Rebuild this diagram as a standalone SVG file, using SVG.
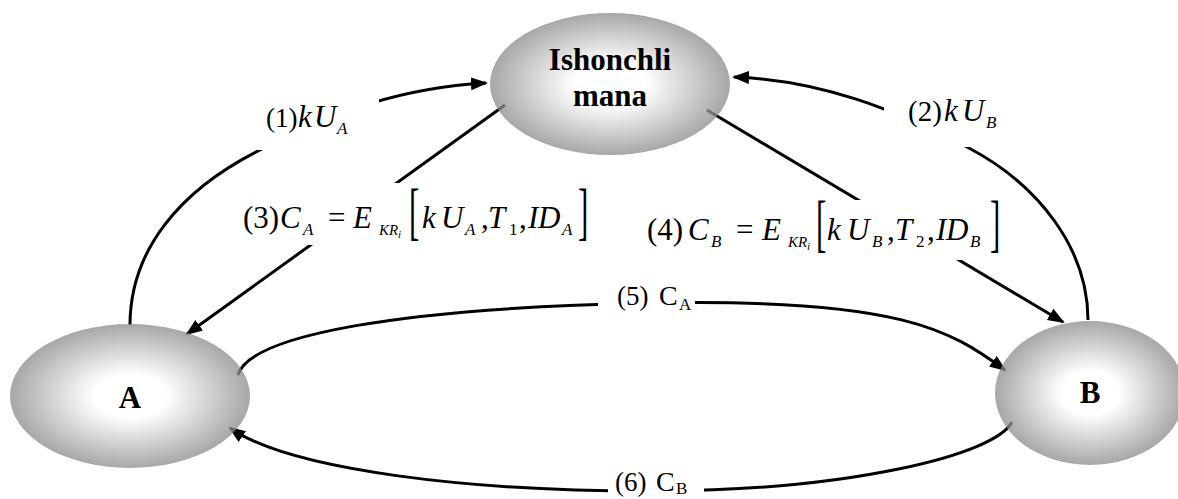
<svg xmlns="http://www.w3.org/2000/svg" width="1178" height="499" viewBox="0 0 1178 499">
<style>
.c{fill:none;stroke:#000;stroke-width:3}
.a{marker-end:url(#ah)}
.t{font-family:"Liberation Serif","Times New Roman","DejaVu Serif",serif;fill:#000}
.n{font-family:"Liberation Serif","Times New Roman","DejaVu Serif",serif;font-weight:bold;font-size:31px;text-anchor:middle;fill:#000}
.i{font-style:italic}
.s{font-size:17px}
.sk{font-size:15px}
.ss{font-size:11px}
.bg{fill:#fff}
.e{fill:url(#g);fill-opacity:0.75}
</style>
<defs>
<radialGradient id="g" cx="50%" cy="50%" r="50%">
<stop offset="0" stop-color="#ffffff"/>
<stop offset="0.3" stop-color="#ffffff"/>
<stop offset="1" stop-color="#8a8a8a"/>
</radialGradient>
<marker id="ah" markerUnits="userSpaceOnUse" markerWidth="18" markerHeight="14" refX="15" refY="6.5" orient="auto">
<path d="M0,0 L17,6.5 L0,13 z" fill="#000"/>
</marker>
</defs>
<rect width="1178" height="499" fill="#fff"/>
<g id="connectors">
<path class="c a" d="M130,325 C130,250 180,190 260,150 S400,88 486,83"/>
<path class="c a" d="M1088,320 C1088,250 1040,185 967,147 S820,80 734,77"/>
<path class="c a" d="M505,105 L187,334"/>
<path class="c a" d="M707,110 L1063,322"/>
<path class="c a" d="M238,375 C250,335 400,308 650,303 S950,330 1005,370"/>
<path class="c a" d="M1012,422 C995,455 850,490 660,491 S290,470 230,428"/>
</g>
<g id="labels">
<rect class="bg" x="257" y="96" width="122" height="54"/>
<text class="t" font-size="27"><tspan x="266" y="127">(1)</tspan><tspan class="i" x="298" y="127" font-size="31">k</tspan><tspan class="i" x="314" y="127" font-size="31">U</tspan><tspan class="i s" x="337" y="134">A</tspan></text>
<rect class="bg" x="884" y="98" width="118" height="49"/>
<text class="t" font-size="29"><tspan x="908" y="121">(2)</tspan><tspan class="i" x="944" y="121" font-size="31">k</tspan><tspan class="i" x="962" y="121" font-size="31">U</tspan><tspan class="i s" x="986" y="128">B</tspan></text>
<rect class="bg" x="240" y="183" width="352" height="62"/>
<text class="t" font-size="31"><tspan x="243" y="228">(3)</tspan><tspan class="i" x="280" y="228">C</tspan><tspan class="i s" x="303" y="235">A</tspan><tspan x="328" y="228">=</tspan><tspan class="i" x="353" y="228">E</tspan><tspan class="i sk" x="379" y="235">KR</tspan><tspan class="i ss" x="398" y="238">i</tspan><tspan class="i" x="422" y="228">k</tspan><tspan class="i" x="441" y="228">U</tspan><tspan class="i s" x="465" y="235">A</tspan><tspan x="481" y="228">,</tspan><tspan class="i" x="488" y="228">T</tspan><tspan class="s" x="509" y="235">1</tspan><tspan x="519" y="228">,</tspan><tspan class="i" x="528" y="228">I</tspan><tspan class="i" x="538" y="228">D</tspan><tspan class="i s" x="562" y="235">A</tspan></text>
<text class="t" font-size="31" transform="translate(409,232) scale(1,2.05)">[</text>
<text class="t" font-size="31" transform="translate(578,232) scale(1,2.05)">]</text>
<rect class="bg" x="644" y="200" width="358" height="60"/>
<text class="t" font-size="31"><tspan x="647" y="240">(4)</tspan><tspan class="i" x="688" y="240">C</tspan><tspan class="i s" x="711" y="247">B</tspan><tspan x="736" y="240">=</tspan><tspan class="i" x="762" y="240">E</tspan><tspan class="i sk" x="788" y="247">KR</tspan><tspan class="i ss" x="807" y="250">i</tspan><tspan class="i" x="827" y="240">k</tspan><tspan class="i" x="847" y="240">U</tspan><tspan class="i s" x="872" y="247">B</tspan><tspan x="887" y="240">,</tspan><tspan class="i" x="895" y="240">T</tspan><tspan class="s" x="916" y="247">2</tspan><tspan x="927" y="240">,</tspan><tspan class="i" x="936" y="240">I</tspan><tspan class="i" x="946" y="240">D</tspan><tspan class="i s" x="970" y="247">B</tspan></text>
<text class="t" font-size="31" transform="translate(816,244) scale(1,2.05)">[</text>
<text class="t" font-size="31" transform="translate(990,244) scale(1,2.05)">]</text>
<rect class="bg" x="598" y="285" width="97" height="30"/>
<text class="t" font-size="27"><tspan x="617" y="305">(5)</tspan><tspan x="659" y="305" font-size="28">C</tspan><tspan class="s" x="679" y="310">A</tspan></text>
<rect class="bg" x="608" y="472" width="96" height="27"/>
<text class="t" font-size="27"><tspan x="615" y="491">(6)</tspan><tspan x="656" y="491" font-size="28">C</tspan><tspan class="s" x="676" y="494">B</tspan></text>
</g>
<g id="node-ishonchli">
<ellipse class="e" cx="610" cy="84" rx="120" ry="71"/>
<text class="n" x="610" y="70">Ishonchli</text>
<text class="n" x="610" y="106">mana</text>
</g>
<g id="node-a">
<ellipse class="e" cx="130" cy="396" rx="120" ry="72"/>
<text class="n" x="130" y="408">A</text>
</g>
<g id="node-b">
<ellipse class="e" cx="1090" cy="393" rx="95" ry="72"/>
<text class="n" x="1090" y="403">B</text>
</g>
</svg>
